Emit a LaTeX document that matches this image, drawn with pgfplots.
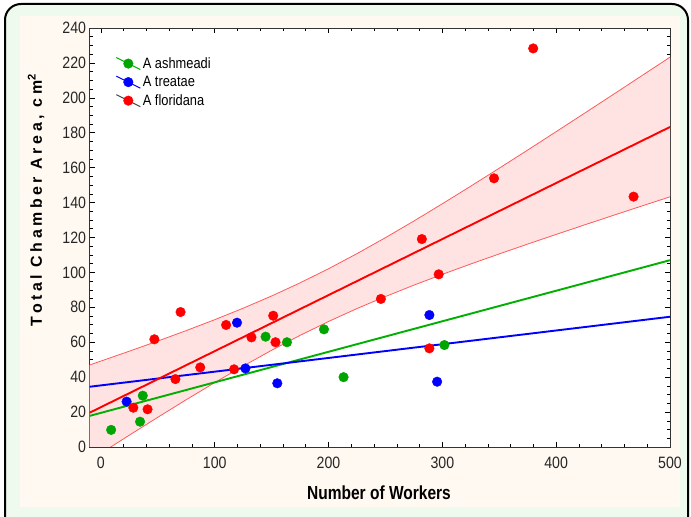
\documentclass[border=0pt]{standalone}
\usepackage{fontspec}
\setmainfont{Liberation Sans}
\newfontfamily\tickfont[FakeStretch=0.86]{Liberation Sans}
\newfontfamily\xlabfont[FakeStretch=0.82]{Liberation Sans}
\newfontfamily\ylabfont[LetterSpace=22]{Liberation Sans}
\usepackage{pgfplots}
\pgfplotsset{compat=1.18}
\definecolor{bgout}{RGB}{238,250,238}
\definecolor{bgin}{RGB}{255,249,241}
\definecolor{pgreen}{RGB}{0,165,0}
\definecolor{lgreen}{RGB}{0,175,0}
\definecolor{pblue}{RGB}{0,0,255}
\definecolor{pred}{RGB}{255,0,0}
\definecolor{band}{RGB}{255,226,226}
\definecolor{bandline}{RGB}{255,90,90}
\definecolor{leggray}{RGB}{70,70,70}
\begin{document}
\begin{tikzpicture}
\draw[line width=2bp, fill=bgout, rounded corners=16bp] (5bp,-30bp) rectangle (688bp,513bp);
\fill[bgin] (20bp,10bp) rectangle (680bp,501bp);
\begin{axis}[
  at={(89.5bp,70bp)}, anchor=south west, scale only axis,
  width=580.5bp, height=419bp,
  xmin=-10, xmax=500, ymin=0, ymax=240,
  xtick={0,100,...,500}, ytick={0,20,...,240},
  minor x tick num=4, minor y tick num=3,
  tick align=inside, major tick length=5bp, minor tick length=3bp,
  every tick/.style={black, line width=0.6bp},
  axis line style={black!80, line width=0.8bp},
  tick label style={font=\tickfont\fontsize{16.5}{16.5}\selectfont, text=black!85},
  xticklabel style={yshift=-7bp},
  /pgf/number format/assume math mode=true,
  axis background/.style={fill=white},
  legend style={at={(0.045,0.935)}, anchor=north west, draw=none, fill=none,
    font=\tickfont\fontsize{15}{15}\selectfont, inner sep=0pt, row sep=2.5bp},
  legend cell align=left,
]
\addlegendimage{legend image code/.code={\draw[lgreen,line width=1bp] (0bp,6bp)--(24bp,-6bp); \fill[pgreen] (12bp,0bp) circle (4.8bp);}}
\addlegendentry{A ashmeadi}
\addlegendimage{legend image code/.code={\draw[pblue,line width=1bp] (0bp,6bp)--(24bp,-6bp); \fill[pblue] (12bp,0bp) circle (4.8bp);}}
\addlegendentry{A treatae}
\addlegendimage{legend image code/.code={\draw[leggray,line width=1bp] (0bp,6bp)--(24bp,-6bp); \fill[pred] (12bp,0bp) circle (4.8bp);}}
\addlegendentry{A floridana}
% confidence band
\addplot[fill=band, draw=none, forget plot] coordinates {
(-10,46.98) (0,49.21) (25,54.88) (50,60.68) (75,66.68) (100,72.91) (125,79.50) (150,86.50) (175,94.02) (200,102.11) (225,110.76) (250,119.90) (275,129.45) (300,139.32) (325,149.42) (350,159.70) (375,170.12) (400,180.63) (425,191.22) (450,201.87) (475,212.57) (500,223.30)
(500,143.30) (475,137.99) (450,132.63) (425,127.24) (400,121.77) (375,116.24) (350,110.60) (325,104.84) (300,98.88) (275,92.71) (250,86.20) (225,79.30) (200,71.89) (175,63.94) (150,55.40) (125,46.36) (100,36.89) (75,27.08) (50,17.02) (25,6.78) (0,-3.61) (-10,-7.80)
};
\addplot[bandline, line width=0.8bp, forget plot] coordinates {
(-10,46.98) (0,49.21) (25,54.88) (50,60.68) (75,66.68) (100,72.91) (125,79.50) (150,86.50) (175,94.02) (200,102.11) (225,110.76) (250,119.90) (275,129.45) (300,139.32) (325,149.42) (350,159.70) (375,170.12) (400,180.63) (425,191.22) (450,201.87) (475,212.57) (500,223.30)
};
\addplot[bandline, line width=0.8bp, forget plot] coordinates {
(-10,-7.80) (0,-3.61) (25,6.78) (50,17.02) (75,27.08) (100,36.89) (125,46.36) (150,55.40) (175,63.94) (200,71.89) (225,79.30) (250,86.20) (275,92.71) (300,98.88) (325,104.84) (350,110.60) (375,116.24) (400,121.77) (425,127.24) (450,132.63) (475,137.99) (500,143.30)
};
% regression lines
\addplot[lgreen, line width=1.9bp, forget plot] coordinates {(-10,17.8) (500,107)};
\addplot[pblue, line width=1.9bp, forget plot] coordinates {(-10,34.5) (500,74.6)};
\addplot[pred, line width=1.9bp, forget plot] coordinates {(-10,19.6) (500,183.3)};
% points
\addplot[only marks, mark=*, mark size=4.8bp, mark options={draw=pgreen, fill=pgreen}, forget plot] coordinates {
(9,9.8) (36.8,29.4) (34.4,14.5) (144.7,63.2) (163.5,60) (196,67.4) (213.2,40) (301.8,58.4)
};
\addplot[only marks, mark=*, mark size=4.8bp, mark options={draw=pblue, fill=pblue}, forget plot] coordinates {
(22.6,26) (119.6,71.2) (127,45) (155,36.5) (288.6,75.6) (295.4,37.4)
};
\addplot[only marks, mark=*, mark size=4.8bp, mark options={draw=pred, fill=pred}, forget plot] coordinates {
(28.5,22.5) (41,21.6) (47,61.7) (70,77.3) (65.5,38.9) (87.3,45.6) (110,69.9) (117,44.5) (132.3,62.8) (151.4,75.2) (153.4,60) (246,84.8) (282,119.1) (288.6,56.5) (296.8,98.9) (345.4,153.9) (379.8,228.3) (468,143.4)
};
\end{axis}
\node[rotate=90, font=\ylabfont\bfseries\fontsize{16}{16}\selectfont] at (36bp,317bp) {Total Chamber Area, cm\textsuperscript{2}};
\node[font=\xlabfont\bfseries\fontsize{19}{19}\selectfont] at (379bp,24bp) {Number of Workers};
\pgfresetboundingbox
\useasboundingbox (0bp,0bp) rectangle (691bp,517bp);
\end{tikzpicture}
\end{document}
